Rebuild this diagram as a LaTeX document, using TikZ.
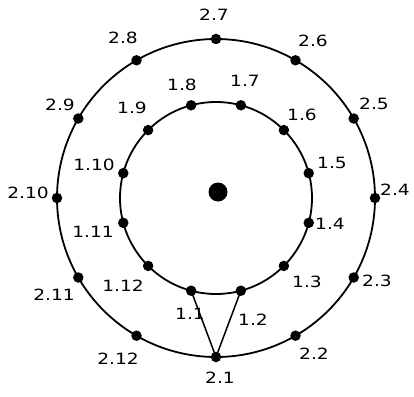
\documentclass[tikz,border=0pt]{standalone}
\usepackage{fontspec}
\setmainfont{DejaVu Sans}
\newcommand{\widetxt}[1]{\scalebox{1.2}[1]{#1}}
\begin{document}
\begin{tikzpicture}[x=1pt,y=-1pt,
  dot/.style={circle,fill=black,inner sep=0pt,minimum size=10.5pt},
  hubdot/.style={circle,fill=black,inner sep=0pt,minimum size=19pt},
  lbl/.style={font=\fontsize{15.5}{15.5}\selectfont,inner sep=0pt},
  ring/.style={line width=1.8pt},
  edge/.style={line width=1.5pt}]
\useasboundingbox (0,0) rectangle (414,396);
\coordinate (c) at (216,198);
\draw[ring] (c) circle[radius=96];
\draw[ring] (c) circle[radius=159];
\node[hubdot] (hub) at (218,192) {};
\foreach \i/\a in {1/255,2/285,3/315,4/345,5/15,6/45,7/75,8/105,9/135,10/165,11/195,12/225}
  \node[dot] (i\i) at ([shift={(\a:96pt)}]c) {};
\foreach \i/\a in {1/270,2/300,3/330,4/0,5/30,6/60,7/90,8/120,9/150,10/180,11/210,12/240}
  \node[dot] (o\i) at ([shift={(\a:159pt)}]c) {};
\draw[edge] (o1.center) -- (i1.center);
\draw[edge] (o1.center) -- (i2.center);
\foreach \t/\x/\y in {1/220/378,2/314/354,3/377/281,4/395/190,5/374/104,6/313/41,7/214/15,8/123/38,9/60/105,10/28/193,11/54/295,12/118/359}
  \node[lbl] (lo\t) at (\x,\y) {\widetxt{2.\t}};
\foreach \t/\x/\y in {1/190/314,2/253/320,3/307/282,4/330/224,5/332/163,6/302/115,7/245/81,8/182/85,9/132/108,10/94/165,11/93/232,12/123/286}
  \node[lbl] (li\t) at (\x,\y) {\widetxt{1.\t}};
\end{tikzpicture}
\end{document}
